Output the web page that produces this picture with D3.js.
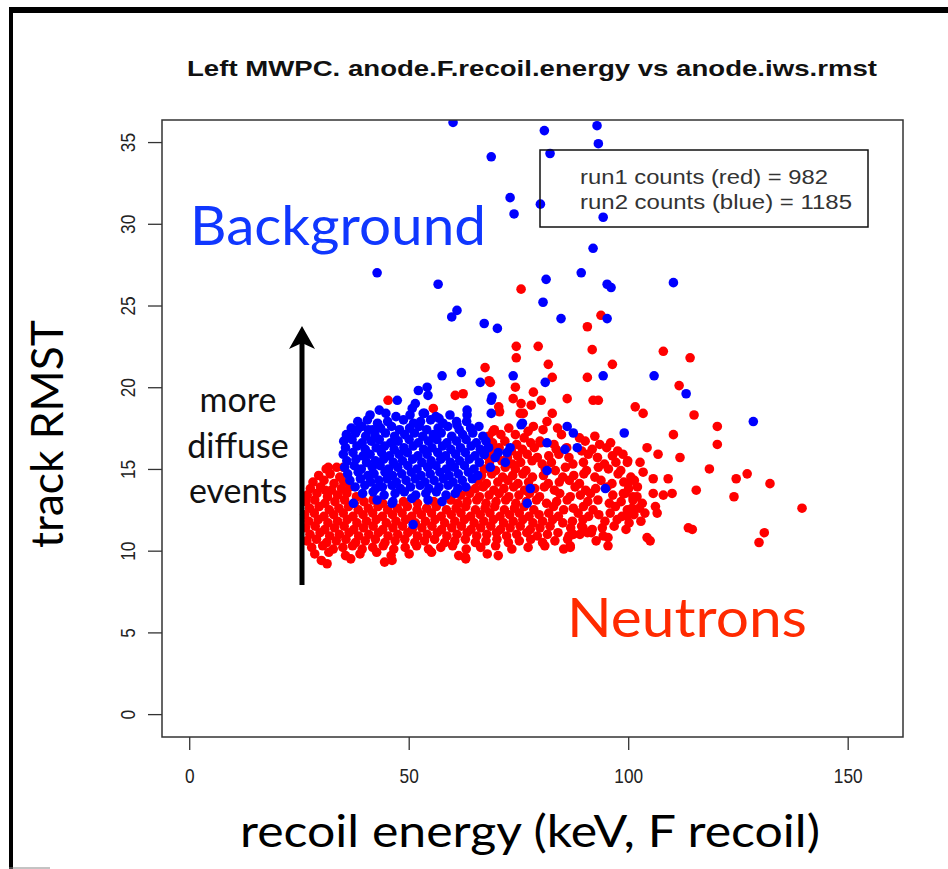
<!DOCTYPE html>
<html>
<head>
<meta charset="utf-8">
<script src="https://cdn.jsdelivr.net/npm/d3@7"></script>
<style>
  body { margin: 0; background: #fff; }
  svg { display: block; }
</style>
</head>
<body>
<div id="chart"></div>
<script>
// axis ticks and labels
var xTicks = [0, 50, 100, 150];
var yTicks = [0, 5, 10, 15, 20, 25, 30, 35];
var chartTitle = "Left MWPC. anode.F.recoil.energy vs anode.iws.rmst";
var xLabel = "recoil energy (keV, F recoil)";
var yLabel = "track RMST";
var legendLines = ["run1 counts (red) = 982", "run2 counts (blue) = 1185"];
var noteLines = ["more", "diffuse", "events"];

// run2 (blue) points: [recoil energy keV, track RMST]
var bluePoints = [
  [41.2,18.3],[44.8,18.4],[47.1,18.2],[50.3,18.3],[53.6,18.4],[56.2,18.2],[59.4,18.3],
  [38.4,17.9],[40.6,18.0],[42.9,17.8],[45.2,17.9],[48.8,18.0],[51.1,17.8],[52.7,17.9],[55.0,18.0],[57.8,17.8],[60.9,17.9],[63.2,17.9],
  [36.9,17.5],[39.3,17.6],[41.8,17.4],[43.6,17.5],[46.1,17.6],[47.9,17.4],[50.2,17.5],[52.4,17.6],[54.1,17.4],[56.7,17.5],[58.9,17.6],[61.5,17.4],[64.1,17.5],[66.0,17.6],
  [35.8,17.1],[37.9,17.2],[40.2,17.0],[42.3,17.1],[44.7,17.2],[46.8,17.0],[49.1,17.1],[51.3,17.2],[53.2,17.0],[55.6,17.1],[57.4,17.2],[59.8,17.0],[62.3,17.1],[64.6,17.2],[66.9,17.0],
  [35.2,16.7],[37.1,16.8],[39.4,16.6],[41.5,16.7],[43.3,16.8],[45.9,16.6],[47.6,16.7],[50.1,16.8],[52.2,16.6],[54.5,16.7],[56.4,16.8],[58.7,16.6],[60.9,16.7],[63.1,16.8],[65.4,16.6],[67.6,16.7],
  [35.6,16.3],[38.2,16.4],[40.1,16.2],[42.6,16.3],[44.5,16.4],[46.7,16.2],[48.9,16.3],[51.0,16.4],[53.4,16.2],[55.3,16.3],[57.7,16.4],[59.6,16.2],[61.8,16.3],[64.2,16.4],[66.3,16.2],[68.2,16.3],
  [35.1,15.9],[37.3,16.0],[39.6,15.8],[41.2,15.9],[43.8,16.0],[45.6,15.8],[47.8,15.9],[49.7,16.0],[52.1,15.8],[54.2,15.9],[56.6,16.0],[58.4,15.8],[60.7,15.9],[62.9,16.0],[65.1,15.8],[67.2,15.9],
  [35.9,15.5],[38.0,15.6],[40.4,15.4],[42.4,15.5],[44.3,15.6],[46.5,15.4],[48.6,15.5],[50.9,15.6],[53.0,15.4],[55.1,15.5],[57.3,15.6],[59.5,15.4],[61.6,15.5],[63.8,15.6],[66.1,15.4],
  [35.4,15.1],[37.6,15.2],[39.2,15.0],[41.7,15.1],[43.5,15.2],[45.4,15.0],[47.5,15.1],[49.8,15.2],[51.9,15.0],[54.3,15.1],[56.2,15.2],[58.6,15.0],[60.4,15.1],[62.7,15.2],[64.9,15.0],
  [36.1,14.7],[38.5,14.8],[40.7,14.6],[42.1,14.7],[44.6,14.8],[46.3,14.6],[48.4,14.7],[50.6,14.8],[52.8,14.6],[54.9,14.7],[57.1,14.8],[59.2,14.6],[61.3,14.7],[63.6,14.8],[65.7,14.6],
  [36.6,14.3],[39.0,14.4],[41.3,14.2],[43.2,14.3],[45.1,14.4],[47.2,14.2],[49.4,14.3],[51.5,14.4],[53.7,14.2],[55.8,14.3],[57.9,14.4],[60.1,14.2],[62.2,14.3],[64.5,14.4],
  [37.8,13.9],[40.0,14.0],[42.5,13.8],[44.0,13.9],[46.2,14.0],[48.1,13.8],[50.4,13.9],[52.6,14.0],[54.6,13.8],[56.9,13.9],[59.0,14.0],[61.2,13.8],[63.0,13.9],
  [39.5,13.5],[41.9,13.6],[44.4,13.4],[46.9,13.5],[49.0,13.6],[51.6,13.4],[53.9,13.5],[56.3,13.6],[58.5,13.4],[60.6,13.5],
  [42.8,13.1],[46.4,13.0],[50.7,13.2],[54.4,13.1],[57.6,13.0],
  // ragged edges of the blob
  [57.6,20.7],[62.0,20.9],[66.3,20.3],[52.2,19.8],[54.2,20.0],[54.4,19.5],[47.4,19.2],[43.3,18.6],[51.5,19.0],[50.8,18.7],
  [53.3,18.4],[56.9,18.1],[63.3,18.6],[63.3,18.3],[68.8,19.2],[68.8,18.4],[69.0,19.4],[73.8,20.7],[81.1,20.3],[75.9,17.8],
  [61.0,17.7],[38.3,17.4],[40.8,17.4],[36.0,17.0],[73.1,16.3],[72.4,16.0],[77.7,13.8],[77.0,12.9],[81.5,14.9],[51.0,11.6],
  [46.2,12.9],[37.4,12.9],[68.6,15.1],[81.5,16.6],[85.6,16.2],[87.5,17.2],[86.1,17.6],[88.4,16.3],[67.2,15.9],[69.7,15.7],
  [72.0,15.4],[70.4,16.0],[68.1,16.3],[75.6,17.7],[94.8,13.8],
  // scattered high-RMST events
  [84.7,24.2],[95.2,24.2],[67.2,23.9],[70.2,23.6],[94.3,20.7],[105.9,20.7],[113.2,19.6],[128.5,17.9],[99.1,17.2],
  [60.1,36.2],[80.9,35.7],[92.9,36.0],[93.2,34.9],[68.8,34.1],[82.2,34.3],[73.1,31.6],[80.0,31.2],[74.0,30.6],[94.3,30.4],
  [92.0,28.5],[42.8,27.0],[56.7,26.3],[81.3,26.6],[89.3,27.0],[95.2,26.3],[96.1,26.1],[110.3,26.4],[80.6,25.2],[61.0,24.7],[59.8,24.3]
];

// run1 (red) points: [recoil energy keV, track RMST]
var redPoints = [
  [69.5,17.4],[72.8,17.5],[77.2,17.3],[80.6,17.4],[83.9,17.5],
  [68.2,17.0],[71.0,17.1],[76.3,16.9],[84.8,17.1],[88.9,16.9],[92.4,17.0],
  [69.1,16.6],[71.9,16.7],[74.6,16.5],[77.8,16.6],[79.9,16.7],[83.1,16.5],[90.2,16.7],[93.5,16.5],[96.0,16.6],
  [68.7,16.2],[70.6,16.3],[73.4,16.1],[75.9,16.2],[78.6,16.3],[83.6,16.2],[86.0,16.3],[89.4,16.1],[91.8,16.2],[95.1,16.3],[97.6,16.1],
  [67.9,15.8],[70.1,15.9],[72.5,15.7],[74.8,15.8],[77.0,15.9],[79.3,15.7],[81.9,15.8],[84.2,15.9],[86.5,15.7],[90.9,15.9],[93.0,15.7],[96.4,15.8],[98.8,15.9],
  [68.4,15.4],[71.2,15.5],[73.6,15.3],[75.5,15.4],[78.1,15.5],[80.4,15.3],[82.5,15.4],[87.4,15.3],[89.8,15.4],[94.6,15.3],[97.2,15.4],[99.9,15.5],
  [31.2,15.0],[33.6,15.1],[67.2,15.0],[69.8,14.9],[72.0,15.1],[74.3,15.0],[76.7,14.9],[81.1,15.0],[83.4,14.9],[85.7,15.1],[90.5,14.9],[93.2,15.1],[95.5,15.0],[98.3,14.9],
  [29.5,14.6],[32.1,14.7],[34.3,14.5],[66.6,14.6],[68.9,14.7],[71.4,14.5],[73.7,14.6],[76.0,14.7],[78.2,14.5],[80.7,14.6],[85.1,14.5],[87.6,14.6],[89.9,14.7],[92.4,14.5],[97.7,14.7],[100.6,14.5],
  [28.2,14.2],[30.7,14.3],[33.0,14.1],[35.2,14.2],[65.8,14.3],[67.7,14.1],[70.3,14.2],[72.6,14.3],[74.9,14.1],[77.3,14.2],[81.8,14.1],[84.3,14.2],[86.6,14.3],[88.9,14.1],[93.8,14.3],[96.3,14.1],[99.0,14.2],[101.4,14.3],
  [27.6,13.8],[29.9,13.9],[32.4,13.7],[34.7,13.8],[36.6,13.9],[63.5,13.7],[65.2,13.8],[67.0,13.9],[69.4,13.7],[71.7,13.8],[73.9,13.9],[76.4,13.7],[78.7,13.8],[80.9,13.9],[83.2,13.7],[87.9,13.9],[90.3,13.7],[92.6,13.8],[95.2,13.9],[100.1,13.8],
  [26.9,13.4],[29.1,13.5],[31.5,13.3],[33.8,13.4],[35.9,13.5],[38.1,13.3],[61.9,13.4],[63.9,13.5],[66.1,13.3],[68.3,13.4],[70.6,13.5],[72.8,13.3],[75.1,13.4],[77.5,13.5],[79.8,13.3],[84.4,13.5],[86.8,13.3],[89.1,13.4],[91.4,13.5],[96.5,13.4],[99.3,13.5],[102.0,13.3],
  [26.6,13.0],[28.6,13.1],[30.9,12.9],[33.2,13.0],[35.4,13.1],[37.6,12.9],[39.8,13.0],[41.9,13.1],[44.1,12.9],[48.8,13.0],[52.0,12.9],[55.7,13.0],[59.6,13.1],[61.2,12.9],[63.3,13.0],[65.5,13.1],
  [67.6,12.9],[69.9,13.0],[72.1,13.1],[74.4,12.9],[76.8,13.0],[79.1,13.1],[81.4,12.9],[83.7,13.0],[86.1,13.1],[90.8,13.0],[93.1,13.1],[95.7,12.9],[98.4,13.0],[101.1,13.1],[103.2,12.9],
  [27.4,12.6],[29.6,12.7],[31.9,12.5],[34.1,12.6],[36.3,12.7],[38.5,12.5],[40.8,12.6],[43.0,12.7],[45.2,12.5],[47.4,12.6],[49.7,12.7],[51.9,12.5],[54.1,12.6],[56.3,12.7],[58.6,12.5],[60.8,12.6],[63.0,12.7],
  [65.2,12.5],[67.4,12.6],[69.6,12.7],[71.8,12.5],[74.1,12.6],[76.3,12.7],[78.5,12.5],[83.0,12.7],[85.3,12.5],[87.5,12.6],[89.8,12.7],[92.0,12.5],[97.1,12.7],[99.8,12.5],[102.5,12.6],
  [26.3,12.2],[28.5,12.3],[30.7,12.1],[32.9,12.2],[35.1,12.3],[37.3,12.1],[39.6,12.2],[41.8,12.3],[44.0,12.1],[46.3,12.2],[48.5,12.3],[50.7,12.1],[52.9,12.2],[55.2,12.3],[57.4,12.1],[59.7,12.2],[61.9,12.3],[64.1,12.1],
  [66.3,12.2],[68.5,12.3],[70.8,12.1],[73.0,12.2],[75.2,12.3],[77.4,12.1],[79.7,12.2],[81.9,12.3],[84.1,12.1],[88.6,12.3],[91.0,12.1],[93.3,12.2],[95.9,12.3],[98.6,12.1],[101.3,12.2],[103.8,12.3],
  [27.2,11.8],[29.4,11.9],[31.6,11.7],[33.8,11.8],[36.0,11.9],[38.2,11.7],[40.4,11.8],[42.6,11.9],[44.9,11.7],[47.1,11.8],[49.3,11.9],[51.5,11.7],[53.8,11.8],[56.0,11.9],[58.2,11.7],[60.5,11.8],[62.7,11.9],
  [64.9,11.7],[67.1,11.8],[69.3,11.9],[71.6,11.7],[73.8,11.8],[76.0,11.9],[78.3,11.7],[80.5,11.8],[82.8,11.9],[85.1,11.7],[87.3,11.8],[89.7,11.9],[94.7,11.8],[97.5,11.9],[100.2,11.7],[102.9,11.8],
  [26.5,11.4],[28.7,11.5],[30.9,11.3],[33.1,11.4],[35.3,11.5],[37.5,11.3],[39.7,11.4],[41.9,11.5],[44.1,11.3],[46.4,11.4],[48.6,11.5],[50.8,11.3],[53.0,11.4],[55.3,11.5],[57.5,11.3],[59.8,11.4],[62.0,11.5],
  [64.2,11.3],[66.4,11.4],[68.7,11.5],[70.9,11.3],[73.1,11.4],[75.4,11.5],[77.7,11.3],[79.9,11.4],[82.2,11.5],[86.9,11.4],[89.4,11.5],[91.8,11.3],[94.1,11.4],[96.8,11.5],[99.5,11.3],
  [27.5,11.0],[29.8,11.1],[32.0,10.9],[34.2,11.0],[36.4,11.1],[38.6,10.9],[40.9,11.0],[43.1,11.1],[45.3,10.9],[47.5,11.0],[49.8,11.1],[52.0,10.9],[54.2,11.0],[56.5,11.1],[58.7,10.9],[61.0,11.0],
  [63.3,11.1],[65.5,10.9],[67.8,11.0],[70.0,11.1],[72.3,10.9],[74.6,11.0],[76.9,11.1],[79.3,10.9],[81.6,11.0],[84.0,11.1],[86.5,10.9],[89.0,11.0],[91.6,11.1],[94.3,10.9],
  [26.8,10.6],[29.0,10.7],[31.3,10.5],[33.5,10.6],[35.7,10.7],[37.9,10.5],[40.1,10.6],[42.4,10.7],[44.6,10.5],[46.9,10.6],[49.1,10.7],[51.4,10.5],[53.6,10.6],[55.9,10.7],
  [58.2,10.5],[60.5,10.6],[62.9,10.7],[65.2,10.5],[67.6,10.6],[70.1,10.7],[72.7,10.5],[75.2,10.6],[77.8,10.7],[80.5,10.5],[83.3,10.6],[86.2,10.7],[92.7,10.6],
  [27.9,10.2],[30.4,10.3],[32.8,10.1],[35.0,10.2],[37.2,10.3],[39.4,10.1],[41.8,10.2],[44.2,10.3],[46.6,10.1],[49.2,10.2],[51.8,10.3],[54.5,10.1],[57.3,10.2],[60.0,10.3],[63.1,10.1],[66.4,10.2],[69.8,10.3],[73.5,10.1],[77.2,10.2],[81.0,10.3],[85.3,10.1],
  [28.6,9.8],[31.8,9.9],[35.6,9.7],[38.9,9.8],[42.7,9.9],[46.0,9.7],[50.1,9.8],[55.2,9.9],[61.4,9.7],[67.9,9.8],
  [30.1,9.4],[36.8,9.5],[44.5,9.3],[63.0,9.5],[31.4,9.2],[46.2,9.4],[62.9,9.6],[70.4,9.7],[86.8,10.2],[87.5,11.0],
  // left of and above the blob
  [45.3,19.2],[68.6,20.3],[60.6,19.5],[62.4,19.6],[55.6,18.7],[75.4,18.4],[78.4,17.6],[69.2,17.3],[74.3,17.1],[81.5,17.9],
  [80.0,16.6],[31.7,15.1],[35.1,15.1],[31.0,13.7],
  // scattered high-energy / high-RMST events
  [75.6,26.0],[93.8,24.4],[90.7,23.7],[74.5,22.5],[74.5,21.8],[79.5,22.5],[91.8,22.3],[108.0,22.2],[114.1,21.8],[67.4,21.2],
  [81.8,21.4],[96.4,21.4],[68.3,20.4],[82.7,20.6],[90.7,20.6],[111.6,20.1],[74.3,20.0],[78.4,19.7],[73.8,19.3],[86.1,19.3],
  [92.0,19.2],[93.2,19.2],[80.2,19.2],[75.6,19.0],[77.9,18.9],[70.5,18.8],[70.7,18.5],[101.6,18.8],[103.4,18.4],[76.1,18.4],
  [82.7,18.4],[115.0,18.3],[120.3,17.6],[120.3,16.5],[110.3,17.1],[104.3,16.3],[106.8,15.9],[111.8,15.7],[118.5,15.0],[127.1,14.7],
  [124.6,14.4],[132.3,14.1],[115.5,13.7],[124.1,13.3],[139.6,12.6],[131.0,11.1],[129.8,10.5],[113.7,11.4],[114.6,11.3],[109.1,14.4],
  [102.7,15.4],[99.8,15.4],[103.4,14.8],[105.7,14.4],[100.0,14.1],[102.1,13.9],[105.7,13.5],[108.0,13.4],[110.0,13.5],[98.9,13.5],
  [101.1,13.3],[106.2,12.7],[106.6,12.3],[100.9,12.6],[99.8,12.1],[104.3,10.8],[105.0,10.6],[95.4,10.8],[95.4,10.3],[89.7,11.4],
  [90.7,11.1],[86.8,10.3]
];

var W = 948, H = 869;
var plot = { left: 162, right: 903, top: 120, bottom: 737 };
var dotR = 4.8;

var svg = d3.select("#chart").append("svg")
  .attr("width", W)
  .attr("height", H);

// slide frame (black edges top and left)
svg.append("rect").attr("x", 9).attr("y", 7).attr("width", W - 9).attr("height", 6).attr("fill", "#000");
svg.append("rect").attr("x", 9).attr("y", 7).attr("width", 4).attr("height", H - 7).attr("fill", "#000");
svg.append("line").attr("x1", 9).attr("x2", 50).attr("y1", 868).attr("y2", 868)
  .attr("stroke", "#888").attr("stroke-width", 1);

var x = d3.scaleLinear().domain([-6.2, 162.6]).range([plot.left, plot.right]);
var y = d3.scaleLinear().domain([-1.4, 36.35]).range([plot.bottom, plot.top]);

svg.append("clipPath").attr("id", "clip")
  .append("rect")
  .attr("x", plot.left).attr("y", plot.top)
  .attr("width", plot.right - plot.left).attr("height", plot.bottom - plot.top);

// title
svg.append("text")
  .attr("x", 532).attr("y", 76)
  .attr("text-anchor", "middle")
  .attr("textLength", 690).attr("lengthAdjust", "spacingAndGlyphs")
  .style("font-family", "'Liberation Sans', Arial, sans-serif")
  .style("font-weight", "bold")
  .style("font-size", "22px")
  .style("fill", "#111")
  .text(chartTitle);

// points: run1 red first, run2 blue on top
var pts = svg.append("g").attr("clip-path", "url(#clip)");
pts.selectAll("circle.red").data(redPoints).enter().append("circle")
  .attr("class", "red")
  .attr("cx", function (d) { return x(d[0]); })
  .attr("cy", function (d) { return y(d[1]); })
  .attr("r", dotR)
  .attr("fill", "#ff0000");
pts.selectAll("circle.blue").data(bluePoints).enter().append("circle")
  .attr("class", "blue")
  .attr("cx", function (d) { return x(d[0]); })
  .attr("cy", function (d) { return y(d[1]); })
  .attr("r", dotR)
  .attr("fill", "#0000ff");

// plot box
svg.append("rect")
  .attr("x", plot.left).attr("y", plot.top)
  .attr("width", plot.right - plot.left).attr("height", plot.bottom - plot.top)
  .attr("fill", "none").attr("stroke", "#333").attr("stroke-width", 1.5);

var tickFont = "'Liberation Sans Narrow', 'Liberation Sans', Arial, sans-serif";

// x axis
var xAxis = svg.append("g")
  .attr("transform", "translate(0," + plot.bottom + ")")
  .call(d3.axisBottom(x).tickValues(xTicks).tickSize(13).tickPadding(18).tickFormat(d3.format("d")));
xAxis.select(".domain").remove();
xAxis.selectAll("line").attr("stroke", "#333").attr("stroke-width", 1.3);
xAxis.selectAll("text")
  .attr("textLength", function (d) { return String(d).length * 9.6; })
  .attr("lengthAdjust", "spacingAndGlyphs")
  .style("font-family", tickFont)
  .style("font-size", "21px")
  .style("fill", "#222");

// y axis with rotated labels like R
var yAxis = svg.append("g")
  .attr("transform", "translate(" + plot.left + ",0)")
  .call(d3.axisLeft(y).tickValues(yTicks).tickSize(14).tickFormat(d3.format("d")));
yAxis.select(".domain").remove();
yAxis.selectAll("line").attr("stroke", "#333").attr("stroke-width", 1.3);
yAxis.selectAll("text")
  .attr("x", null).attr("dy", null)
  .attr("transform", "translate(-27,0) rotate(-90)")
  .attr("text-anchor", "middle")
  .attr("textLength", function (d) { return String(d).length * 9.6; })
  .attr("lengthAdjust", "spacingAndGlyphs")
  .style("font-family", tickFont)
  .style("font-size", "21px")
  .style("fill", "#222");

// axis titles
svg.append("text")
  .attr("x", 530).attr("y", 847)
  .attr("text-anchor", "middle")
  .attr("textLength", 580).attr("lengthAdjust", "spacingAndGlyphs")
  .style("font-family", "Lato, 'Open Sans', sans-serif")
  .style("font-size", "45px")
  .style("fill", "#000")
  .text(xLabel);

svg.append("text")
  .attr("transform", "translate(63,434) rotate(-90)")
  .attr("text-anchor", "middle")
  .attr("textLength", 228).attr("lengthAdjust", "spacingAndGlyphs")
  .style("font-family", "Lato, 'Open Sans', sans-serif")
  .style("font-size", "45px")
  .style("fill", "#000")
  .text(yLabel);

// legend box
svg.append("rect")
  .attr("x", 540).attr("y", 150).attr("width", 328).attr("height", 77)
  .attr("fill", "none").attr("stroke", "#111").attr("stroke-width", 1.5);
var legendWidths = [248, 272];
svg.selectAll("text.legend").data(legendLines).enter().append("text")
  .attr("class", "legend")
  .attr("x", 580)
  .attr("y", function (d, i) { return 184 + i * 25; })
  .attr("textLength", function (d, i) { return legendWidths[i]; })
  .attr("lengthAdjust", "spacingAndGlyphs")
  .style("font-family", "'Liberation Sans', Arial, sans-serif")
  .style("font-size", "20px")
  .style("fill", "#333")
  .text(function (d) { return d; });

// annotations
svg.append("text")
  .attr("x", 190).attr("y", 245)
  .attr("textLength", 296).attr("lengthAdjust", "spacingAndGlyphs")
  .style("font-family", "Lato, 'Open Sans', sans-serif")
  .style("font-size", "55px")
  .style("fill", "#1037ff")
  .text("Background");

svg.append("text")
  .attr("x", 567).attr("y", 637)
  .attr("textLength", 240).attr("lengthAdjust", "spacingAndGlyphs")
  .style("font-family", "Lato, 'Open Sans', sans-serif")
  .style("font-size", "55px")
  .style("fill", "#ff2a00")
  .text("Neutrons");

svg.selectAll("text.note").data(noteLines).enter().append("text")
  .attr("class", "note")
  .attr("x", 238)
  .attr("y", function (d, i) { return 412 + i * 45.5; })
  .attr("text-anchor", "middle")
  .style("font-family", "Lato, 'Open Sans', sans-serif")
  .style("font-size", "34px")
  .style("fill", "#111")
  .text(function (d) { return d; });

// arrow: more diffuse events upward
svg.append("line")
  .attr("x1", 302).attr("x2", 302).attr("y1", 585).attr("y2", 340)
  .attr("stroke", "#000").attr("stroke-width", 5);
svg.append("path")
  .attr("d", "M302,326 L289,349 L302,343 L315,349 Z")
  .attr("fill", "#000");
</script>
</body>
</html>
